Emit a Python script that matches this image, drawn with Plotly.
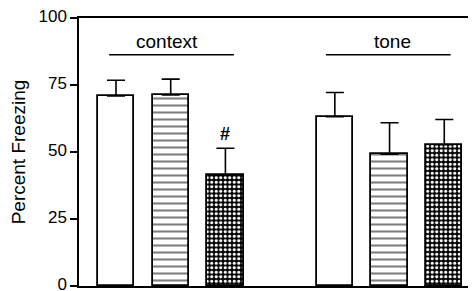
import plotly.graph_objects as go

# Data
groups = ["context", "tone"]
positions = [0, 1, 2, 4, 5, 6]
means = [70.9, 71.3, 41.3, 63.2, 49.2, 52.7]
sem = [5.9, 5.9, 10.1, 9.0, 11.7, 9.4]
fills = ["", "-", "x", "", "-", "x"]
y_ticks = [0, 25, 50, 75, 100]
sig_marks = {2: "#"}

FONT = "Liberation Sans, Arial, Helvetica, sans-serif"

fig = go.Figure()
for shape in ["", "-", "x"]:
    xs = [p for p, f in zip(positions, fills) if f == shape]
    ys = [m for m, f in zip(means, fills) if f == shape]
    es = [e for e, f in zip(sem, fills) if f == shape]
    if shape == "-":
        pattern = dict(shape="-", size=7, solidity=0.3, fgcolor="black", bgcolor="white", fillmode="overlay")
    elif shape == "x":
        pattern = dict(shape=".", size=4.5, solidity=0.4, fgcolor="white", bgcolor="black", fillmode="replace")
    else:
        pattern = dict(shape="")
    fig.add_trace(go.Bar(
        x=xs, y=ys, width=0.663,
        marker=dict(color="white", line=dict(color="black", width=1.8), pattern=pattern),
        error_y=dict(type="data", array=es, arrayminus=[0] * len(es), symmetric=False,
                     color="black", thickness=1.6, width=9),
        showlegend=False,
    ))

for pos, txt in sig_marks.items():
    idx = positions.index(pos)
    fig.add_annotation(x=pos, y=means[idx] + sem[idx] + 1.0, text="<b>" + txt + "</b>", showarrow=False,
                       yanchor="bottom", font=dict(family=FONT, size=18, color="black"))

# group labels with lines
group_spans = [(-0.124, 2.155), (3.837, 6.116)]
label_pos = [0.94, 5.06]
for g, (x0, x1), lp in zip(groups, group_spans, label_pos):
    fig.add_shape(type="line", x0=x0, x1=x1, y0=86.3, y1=86.3, xref="x", yref="y",
                  line=dict(color="black", width=1.4))
    fig.add_annotation(x=lp, y=86.3, text=g, showarrow=False, yanchor="bottom", yshift=1,
                       font=dict(family=FONT, size=19, color="black"))

# the page body adds an 8px offset, so the figure is sized to fill the rest of the window
fig.update_layout(
    width=468, height=283,
    margin=dict(l=71, r=0, t=10, b=5),
    plot_bgcolor="white", paper_bgcolor="white",
    bargap=0,
    font=dict(family=FONT, color="black"),
)
fig.update_xaxes(range=[-0.676, 6.58], showticklabels=False, ticks="", showgrid=False,
                 zeroline=False, showline=True, linecolor="black", linewidth=1.5, mirror=True)
fig.update_yaxes(range=[0, 100], tickvals=y_ticks, ticks="outside", ticklen=7, tickwidth=1.5,
                 tickcolor="black", showgrid=False, zeroline=False, showline=True,
                 linecolor="black", linewidth=1.5, automargin=False, ticklabeloverflow="allow",
                 ticklabelshift=-2,
                 tickfont=dict(family=FONT, size=17, color="black"),
                 title=dict(text="Percent Freezing", font=dict(family=FONT, size=19, color="black"),
                            standoff=10))

fig.write_html("out.html")
